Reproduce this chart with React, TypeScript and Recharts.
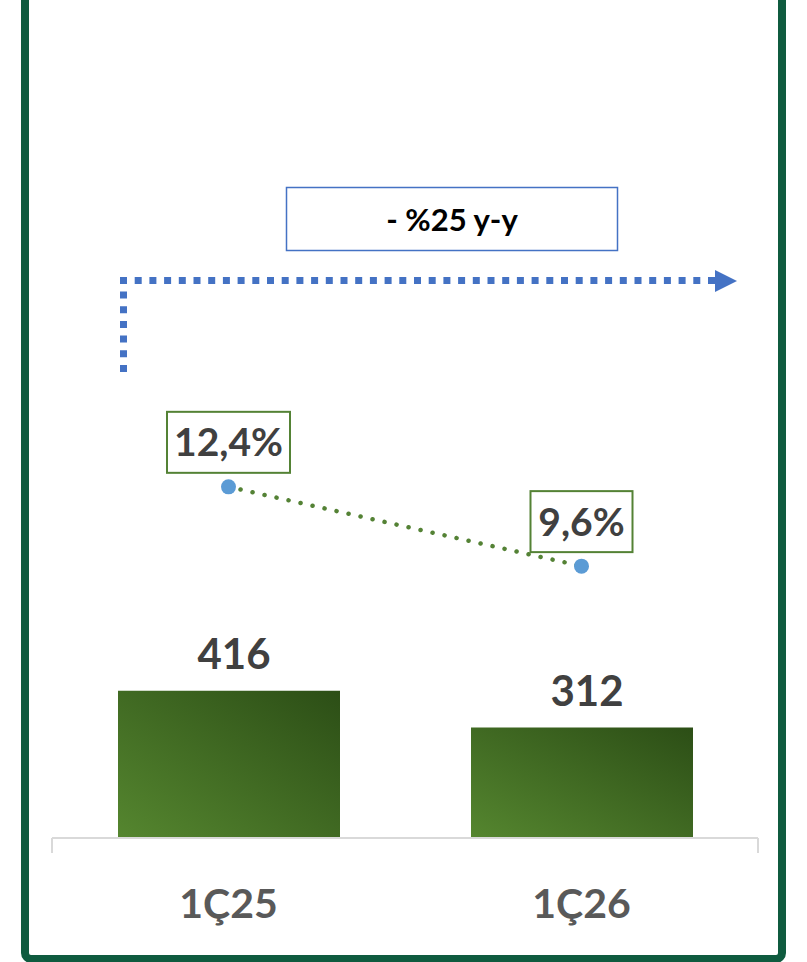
import {
  Bar,
  ComposedChart,
  LabelList,
  Line,
  XAxis,
  YAxis,
} from "recharts";

const quarters = ["1Ç25", "1Ç26"];
const amounts = [416, 312];
const margins = [12.4, 9.6];
const changeLabel = "- %25 y-y";

const FONT = "Lato, Carlito, Calibri, sans-serif";
const FRAME = "#0f5b3f";
const BAR_GREEN = "#548235";
const BLUE = "#4472c4";

const data = quarters.map((q, i) => ({ q, amount: amounts[i], margin: margins[i] }));

const fmtPct = (v: number) => `${v.toFixed(1).replace(".", ",")}%`;

function AmountLabel(props: any) {
  const { x, y, width, value } = props;
  return (
    <text
      x={x + width / 2 + 5}
      y={y - 22}
      textAnchor="middle"
      fontFamily={FONT}
      fontWeight={700}
      fontSize={42}
      fill="#404040"
    >
      {value}
    </text>
  );
}

function MarginLabel(props: any) {
  const { x, y, value } = props;
  const text = fmtPct(value);
  const w = text.length * 21 + 18;
  const h = 61;
  const bottom = y - 14;
  return (
    <g>
      <rect
        x={x - w / 2}
        y={bottom - h}
        width={w}
        height={h}
        fill="#fff"
        stroke={BAR_GREEN}
        strokeWidth={2}
      />
      <text
        x={x}
        y={bottom - h / 2 + 14}
        textAnchor="middle"
        fontFamily={FONT}
        fontWeight={700}
        fontSize={39}
        fill="#404040"
      >
        {text}
      </text>
    </g>
  );
}

export default function App() {
  return (
    <div
      style={{
        position: "fixed",
        left: 0,
        top: 0,
        width: 807,
        height: 962,
        overflow: "hidden",
        background: "#fff",
      }}
    >
      <ComposedChart
        width={807}
        height={962}
        data={data}
        margin={{ top: 130, right: 49, left: 52, bottom: 28 }}
      >
        <defs>
          <linearGradient id="barGrad" x1="0" y1="1" x2="1" y2="0">
            <stop offset="0%" stopColor="#55862f" />
            <stop offset="100%" stopColor="#2c4e16" />
          </linearGradient>
        </defs>
        {/* edge axis: the gridline and tick marks between categories */}
        <XAxis
          xAxisId={0}
          type="number"
          domain={[0, 2]}
          ticks={[0, 1, 2]}
          interval={0}
          allowDataOverflow
          height={16}
          tickSize={15}
          tickFormatter={() => ""}
          stroke="#d9d9d9"
          strokeWidth={2}
        />
        <XAxis
          xAxisId={1}
          dataKey="q"
          height={80}
          axisLine={false}
          tickLine={false}
          tickSize={0}
          tickMargin={35}
          tick={{ fontFamily: FONT, fontWeight: 700, fontSize: 41, fill: "#595959" }}
        />
        <YAxis yAxisId="left" hide domain={[0, 2000]} />
        <YAxis yAxisId="right" hide orientation="right" domain={[0, 25]} />
        <Bar
          xAxisId={1}
          yAxisId="left"
          dataKey="amount"
          barSize={222}
          fill="url(#barGrad)"
          isAnimationActive={false}
        >
          <LabelList dataKey="amount" content={AmountLabel} />
        </Bar>
        <Line
          xAxisId={1}
          yAxisId="right"
          dataKey="margin"
          stroke={BAR_GREEN}
          strokeWidth={4.5}
          strokeDasharray="0.1 12.2"
          strokeLinecap="round"
          dot={{ r: 7.5, fill: "#5b9bd5", stroke: "none" }}
          isAnimationActive={false}
        >
          <LabelList dataKey="margin" content={MarginLabel} />
        </Line>
      </ComposedChart>

      <svg
        width={807}
        height={962}
        style={{ position: "absolute", left: 0, top: 0, pointerEvents: "none" }}
      >
        <line x1={123.5} y1={372} x2={123.5} y2={277} stroke={BLUE} strokeWidth={7} strokeDasharray="7 7.7" />
        <line x1={120} y1={280.5} x2={715} y2={280.5} stroke={BLUE} strokeWidth={7} strokeDasharray="7 7.7" />
        <polygon points="715,270 737,281 715,292" fill={BLUE} />
        <rect x={286.5} y={187.5} width={331} height={63} fill="#fff" stroke={BLUE} strokeWidth={1.5} />
        <text
          x={452}
          y={231}
          textAnchor="middle"
          fontFamily={FONT}
          fontWeight={700}
          fontSize={31}
          fill="#000"
        >
          {changeLabel}
        </text>
      </svg>

      <div
        style={{
          position: "absolute",
          left: 21,
          top: -30,
          width: 765,
          height: 993,
          boxSizing: "border-box",
          border: `8px solid ${FRAME}`,
          borderRadius: 10,
        }}
      />
    </div>
  );
}
